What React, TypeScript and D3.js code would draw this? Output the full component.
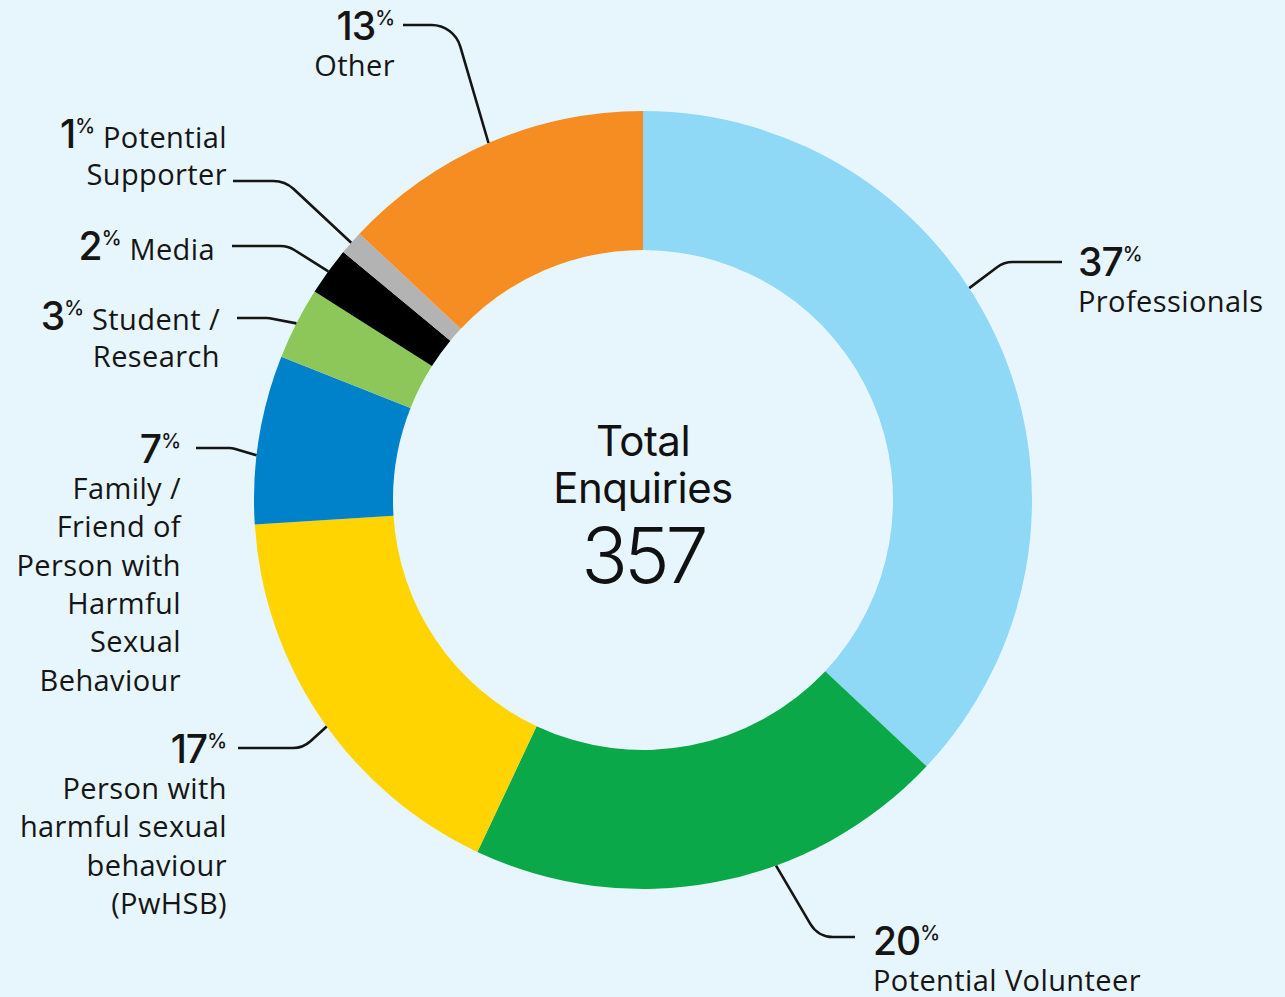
import { arc, pie, path } from "d3";

// share of total enquiries, clockwise from 12 o'clock
const categories = [
  "Professionals",
  "Potential Volunteer",
  "Person with harmful sexual behaviour (PwHSB)",
  "Family / Friend of Person with Harmful Sexual Behaviour",
  "Student / Research",
  "Media",
  "Potential Supporter",
  "Other",
];
const shares = [37, 20, 17, 7, 3, 2, 1, 13];
const colors = ["#8fd8f6", "#0ba84a", "#ffd400", "#0082cb", "#8dc75a", "#000000", "#b3b3b3", "#f68d22"];
const total = 357;

// how each label is broken over lines (first line may share the % figure)
const labelLines = [
  ["Professionals"],
  ["Potential Volunteer"],
  ["Person with", "harmful sexual", "behaviour", "(PwHSB)"],
  ["Family /", "Friend of", "Person with", "Harmful", "Sexual", "Behaviour"],
  ["Student /", "Research"],
  ["Media"],
  ["Potential", "Supporter"],
  ["Other"],
];

// label placement + leader line (start, corner, angle on ring)
const layout = [
  { x: 1078, y: 276, anchor: "start", inline: false, sx: 1062, sy: 262, cx: 1004, r: 26, angle: 57 },
  { x: 873, y: 955, anchor: "start", inline: false, sx: 855, sy: 937, cx: 818, r: 26, angle: 160 },
  { x: 227, y: 763, anchor: "end", inline: false, sx: 238, sy: 748, cx: 303, r: 26, angle: 234.4 },
  { x: 181, y: 463, anchor: "end", inline: false, sx: 196, sy: 448, cx: 232, r: 18, angle: 276.6 },
  { x: 220, y: 330, anchor: "end", inline: true, sx: 237, sy: 318, cx: 268, r: 18, angle: 297 },
  { x: 215, y: 260, anchor: "end", inline: true, sx: 232, sy: 246, cx: 288, r: 26, angle: 306 },
  { x: 227, y: 148, anchor: "end", inline: true, sx: 233, sy: 181, cx: 285, r: 30, angle: 311.4 },
  { x: 395, y: 40, anchor: "end", inline: false, sx: 403, sy: 25, cx: 454, r: 30, angle: 336.6 },
];

const W = 1285;
const H = 997;
const CX = 643;
const CY = 500;
const R_OUT = 389;
const R_IN = 250;
const LINE_H = 38.3;
const INK = "#151515";
const numFont = "Inter, Roboto, sans-serif";
const txtFont = "'Open Sans', 'Noto Sans', sans-serif";

export default function App() {
  const slices = pie<number>().sort(null).value((d) => d)(shares);
  const arcGen = arc<any>().innerRadius(R_IN).outerRadius(R_OUT);

  const leader = (l: (typeof layout)[number]) => {
    const a = (l.angle * Math.PI) / 180;
    const ex = CX + R_OUT * Math.sin(a);
    const ey = CY - R_OUT * Math.cos(a);
    const p = path();
    p.moveTo(l.sx, l.sy);
    p.arcTo(l.cx, l.sy, ex, ey, l.r);
    p.lineTo(ex, ey);
    return p.toString();
  };

  return (
    <div style={{ position: "absolute", left: 0, top: 0 }}>
      <svg width={W} height={H} style={{ display: "block", background: "#e7f6fd" }}>
        <g transform={`translate(${CX},${CY})`}>
          {slices.map((s, i) => (
            <path key={categories[i]} d={arcGen(s) as string} fill={colors[i]} />
          ))}
        </g>

        {layout.map((l, i) => (
          <path key={"lead" + i} d={leader(l)} fill="none" stroke={INK} strokeWidth={2.6} />
        ))}

        {layout.map((l, i) => {
          const lines = labelLines[i];
          const rest = l.inline ? lines.slice(1) : lines;
          return (
            <g key={"lab" + i} fill={INK}>
              <text x={l.x} y={l.y} textAnchor={l.anchor}>
                <tspan fontFamily={numFont} fontWeight={500} fontSize={39} letterSpacing={-1}>
                  {shares[i]}
                </tspan>
                <tspan fontFamily={numFont} fontWeight={500} fontSize={20} dy={-15} dx={0}>
                  %
                </tspan>
                {l.inline && (
                  <tspan fontFamily={txtFont} fontSize={29} letterSpacing={0.4} dy={15}>
                    {" " + lines[0]}
                  </tspan>
                )}
              </text>
              {rest.map((t, j) => (
                <text
                  key={t}
                  x={l.x}
                  y={l.y + (l.inline ? 37 : 36) + j * LINE_H}
                  textAnchor={l.anchor}
                  fontFamily={txtFont}
                  fontSize={29}
                  letterSpacing={0.4}
                >
                  {t}
                </text>
              ))}
            </g>
          );
        })}

        <g fill="#111" textAnchor="middle" fontFamily={numFont}>
          <text x={CX} y={456} fontSize={42} fontWeight={400} letterSpacing={-0.5}>
            Total
          </text>
          <text x={CX} y={503} fontSize={42} fontWeight={400} letterSpacing={-0.5}>
            Enquiries
          </text>
          <text x={CX} y={583} fontSize={77} fontWeight={300} letterSpacing={-4}>
            {total}
          </text>
        </g>
      </svg>
    </div>
  );
}
